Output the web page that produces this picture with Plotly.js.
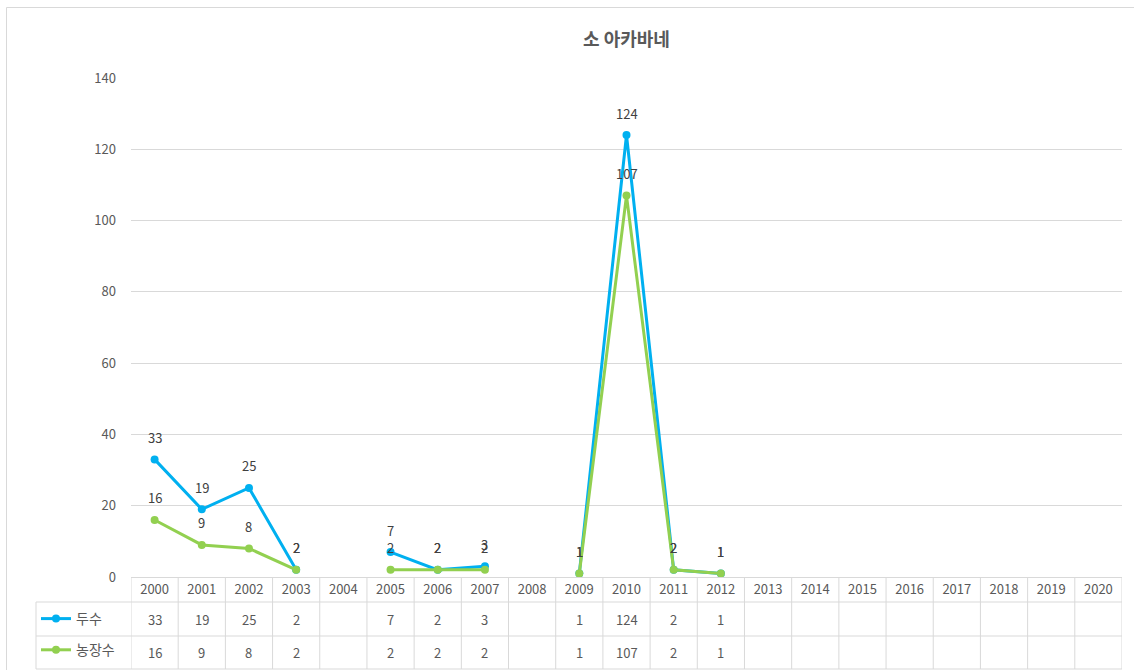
<!DOCTYPE html>
<html><head><meta charset="utf-8">
<script src="https://cdn.plot.ly/plotly-3.0.1.min.js"></script>
<style>body{margin:0;background:#fff}</style></head>
<body><div id="c" style="width:1134px;height:670px"></div>
<script>
// ---- data ----
const years = ['2000','2001','2002','2003','2004','2005','2006','2007','2008','2009','2010',
               '2011','2012','2013','2014','2015','2016','2017','2018','2019','2020'];
const heads = [33,19,25,2,null,7,2,3,null,1,124,2,1,null,null,null,null,null,null,null,null];
const farms = [16,9,8,2,null,2,2,2,null,1,107,2,1,null,null,null,null,null,null,null,null];
const seriesNames = ['두수','농장수'];
const chartTitle = '소 아카바네';

// ---- styles ----
const colors = ['#00B0F0','#92D050'];
const grid = '#D9D9D9';
const txt = '#595959';
const FONT = 'Noto Sans CJK KR, Noto Sans, sans-serif';
const W = 1134, H = 670, L = 131, R = 12, T = 78, B = 93;
const pw = W - L - R, ph = H - T - B;
const px2x = X => (X - L) / pw;
const px2y = Y => (H - B - Y) / ph;

const series = [heads, farms];
const traces = series.map((vals, s) => ({
  type: 'scatter', mode: 'lines+markers', x: years, y: vals, name: seriesNames[s],
  line: {color: colors[s], width: 3}, marker: {color: colors[s], size: 8},
  connectgaps: false, legendgroup: 'g' + s, hoverinfo: 'x+y'
}));

// category axis: annotation x is the category's serial number
const annotations = [];
series.forEach((vals, s) => vals.forEach((v, i) => {
  if (v === null) return;
  annotations.push({x: i, y: v, xref: 'x', yref: 'y', text: String(v), showarrow: false,
    yanchor: 'middle', yshift: 22, font: {family: FONT, size: 13, color: '#404040'}});
}));
const rowY = [px2y(619), px2y(652.5)];
series.forEach((vals, s) => vals.forEach((v, i) => {
  if (v === null) return;
  annotations.push({x: i, y: rowY[s], xref: 'x', yref: 'paper', text: String(v), showarrow: false,
    yanchor: 'middle', font: {family: FONT, size: 13, color: txt}});
}));

const shapes = [];
const line = {color: grid, width: 1};
shapes.push({type: 'rect', xref: 'paper', yref: 'paper', x0: px2x(6.5), x1: px2x(1140), y0: px2y(7.5), y1: px2y(680), line: line, layer: 'below'});
for (let i = 0; i <= years.length; i++) {
  shapes.push({type: 'line', xref: 'x', yref: 'paper', x0: i - 0.5, x1: i - 0.5, y0: 0, y1: px2y(669), line: line});
}
[602, 636, 669].forEach(Y => shapes.push({type: 'line', xref: 'paper', yref: 'paper', x0: px2x(36), x1: 1, y0: px2y(Y), y1: px2y(Y), line: line}));
shapes.push({type: 'line', xref: 'paper', yref: 'paper', x0: px2x(36), x1: px2x(36), y0: px2y(602), y1: px2y(669), line: line});

const layout = {
  width: W, height: H, margin: {l: L, r: R, t: T, b: B, pad: 0, autoexpand: false},
  paper_bgcolor: '#fff', plot_bgcolor: '#fff',
  title: {text: chartTitle, x: 0.5, xref: 'paper', xanchor: 'center', y: 1 - 40/H, yanchor: 'middle',
          font: {family: FONT, size: 18, color: txt, weight: 'bold'}},
  xaxis: {type: 'category', range: [-0.5, years.length - 0.5], showgrid: false, showline: true, linecolor: grid,
          ticks: '', tickfont: {family: FONT, size: 13, color: txt}, ticklabelstandoff: 0, fixedrange: true},
  yaxis: {range: [0, 140], dtick: 20, showgrid: true, gridcolor: grid, zeroline: false, showline: false,
          ticks: '', ticklabelstandoff: 14, tickfont: {family: FONT, size: 13, color: txt}, fixedrange: true},
  showlegend: true,
  legend: {x: px2x(36), xanchor: 'left', y: px2y(603), yanchor: 'top', bgcolor: 'rgba(0,0,0,0)',
           font: {family: FONT, size: 14, color: txt}, tracegroupgap: 10, itemwidth: 30},
  annotations: annotations, shapes: shapes
};
Plotly.newPlot('c', traces, layout, {displayModeBar: false, staticPlot: true});
</script></body></html>
